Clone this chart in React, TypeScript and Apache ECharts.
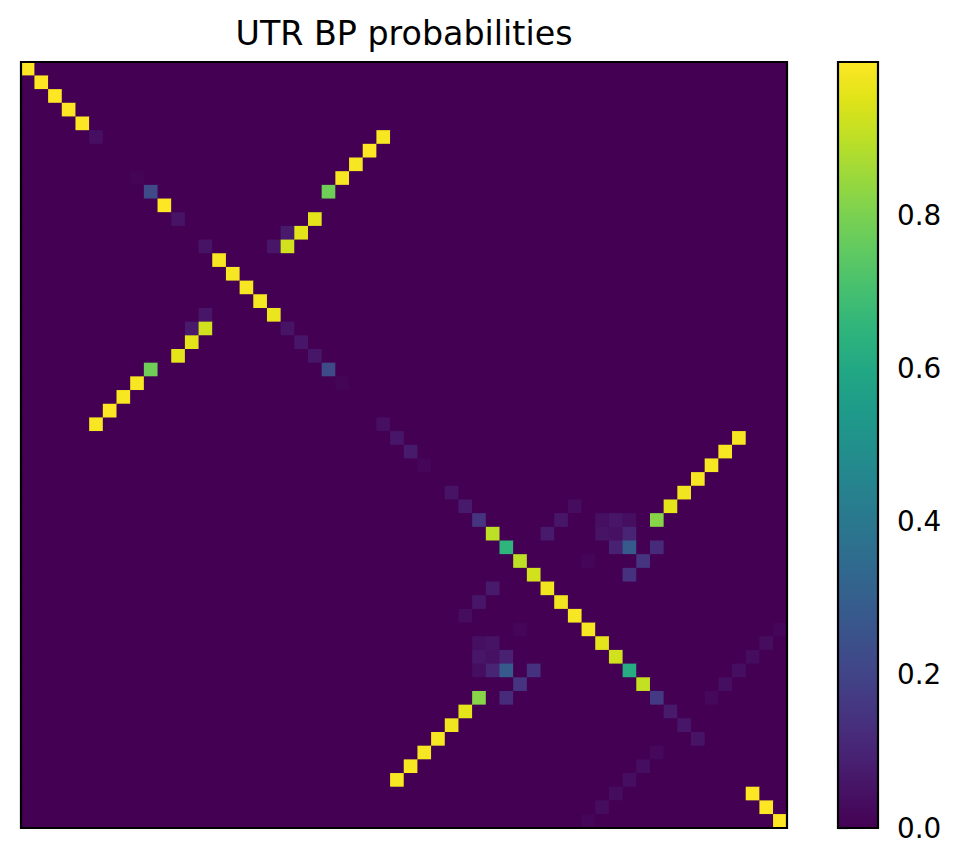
import React, { useEffect, useRef } from 'react';
import * as echarts from 'echarts';

const N = 56;
const categories = Array.from({ length: N }, (_, i) => String(i));

// diagonal values (unpaired probability) for each position
const unpaired = [
  1, 1, 1, 1, 1, 0.04, 0, 0, 0.01, 0.22,
  1, 0.05, 0, 0.05, 0.99, 0.99, 0.99, 0.99, 0.97, 0.05,
  0.06, 0.06, 0.22, 0.01, 0, 0, 0.04, 0.06, 0.07, 0.015,
  0, 0.05, 0.07, 0.15, 0.9, 0.65, 0.9, 0.93, 0.98, 0.98,
  0.99, 0.99, 0.96, 0.93, 0.62, 0.91, 0.17, 0.07, 0.06, 0.05,
  0, 0, 0, 1, 1, 1,
];

// base pair (i, j) probabilities, mirrored to (j, i)
const pairI = [5, 6, 7, 8, 9, 11, 12, 12, 13, 13,
  27, 28, 29, 30, 31, 32, 33,
  32, 33, 34, 33, 33, 33, 34, 34, 34, 35, 35, 35, 36, 37, 36,
  42, 43, 44, 45, 46, 41];
const pairJ = [26, 25, 24, 23, 22, 21, 20, 19, 19, 18,
  52, 51, 50, 49, 48, 47, 46,
  40, 39, 38, 42, 43, 44, 42, 43, 44, 43, 44, 46, 45, 44, 41,
  54, 53, 52, 51, 50, 55];
const pairP = [0.99, 1, 0.99, 0.99, 0.78, 0.96, 0.96, 0.07, 0.93, 0.06,
  0.99, 0.99, 0.99, 0.99, 0.98, 0.96, 0.82,
  0.03, 0.06, 0.07, 0.04, 0.06, 0.035, 0.05, 0.045, 0.1, 0.09, 0.28, 0.12, 0.15, 0.14, 0.012,
  0.03, 0.03, 0.035, 0.035, 0.02, 0.012];

const colorbarTicks = [0, 0.2, 0.4, 0.6, 0.8];

const viridis = [
  '#440154', '#471365', '#482475', '#463480', '#414487', '#3b528b', '#355f8d',
  '#2f6c8e', '#2a788e', '#25848e', '#21918c', '#1e9c89', '#22a884', '#2fb47c',
  '#44bf70', '#5ec962', '#7ad151', '#9bd93c', '#bddf26', '#dfe318', '#fde725',
];

export default function App() {
  const ref = useRef<HTMLDivElement>(null);
  useEffect(() => {
    if (!ref.current) return;
    const chart = echarts.init(ref.current, undefined, { renderer: 'svg' });
    const matrix: number[][] = Array.from({ length: N }, () => Array(N).fill(0));
    unpaired.forEach((v, i) => { matrix[i][i] = v; });
    pairI.forEach((i, k) => {
      const j = pairJ[k];
      matrix[i][j] = pairP[k];
      matrix[j][i] = pairP[k];
    });
    const data: number[][] = [];
    for (let r = 0; r < N; r++) for (let c = 0; c < N; c++) data.push([c, r, matrix[r][c]]);

    const PL = 21, PT = 62, PW = 766, PH = 766;
    const CL = 838, CW = 40;

    chart.setOption({
      animation: false,
      backgroundColor: '#ffffff',
      textStyle: { fontFamily: 'DejaVu Sans' },
      grid: [
        { left: PL, top: PT, width: PW, height: PH, show: true, backgroundColor: '#440154', borderWidth: 0 },
        { left: CL, top: PT, width: CW, height: PH, show: false },
      ],
      xAxis: [
        { type: 'category', data: categories, gridIndex: 0, show: false },
        { type: 'value', gridIndex: 1, show: false, min: 0, max: 1 },
      ],
      yAxis: [
        { type: 'category', data: categories, gridIndex: 0, inverse: true, show: false },
        {
          type: 'value', gridIndex: 1, min: 0, max: 1, interval: 0.2, position: 'right',
          axisLine: { show: false },
          splitLine: { show: false },
          axisTick: { show: true, length: 9.7, lineStyle: { color: '#000', width: 2.2 }, customValues: colorbarTicks },
          axisLabel: {
            show: true, customValues: colorbarTicks,
            formatter: (v: number) => (v > 0.95 ? '' : v.toFixed(1)),
            fontSize: 27.8, color: '#000', margin: 19, fontFamily: 'DejaVu Sans',
          },
        },
      ],
      visualMap: {
        type: 'continuous', min: 0, max: 1, dimension: 2, seriesIndex: 0,
        calculable: false, show: true, orient: 'vertical',
        left: CL, top: PT, itemWidth: CW, itemHeight: PH, padding: 0,
        hoverLink: false,
        inRange: { color: viridis },
      },
      series: [
        {
          type: 'heatmap', xAxisIndex: 0, yAxisIndex: 0, data,
          progressive: 0, emphasis: { disabled: true }, itemStyle: { borderWidth: 0 },
        },
      ],
      graphic: [
        {
          type: 'text', x: PL + PW / 2, y: 33, z: 100,
          style: { text: 'UTR BP probabilities', fontSize: 33.3, fontFamily: 'DejaVu Sans', fill: '#000', textAlign: 'center', textVerticalAlign: 'middle' },
        },
        { type: 'rect', z: 100, shape: { x: PL, y: PT, width: PW, height: PH }, style: { fill: 'none', stroke: '#000', lineWidth: 2.2 } },
        { type: 'rect', z: 100, shape: { x: CL, y: PT, width: CW, height: PH }, style: { fill: 'none', stroke: '#000', lineWidth: 2.2 } },
      ],
    });
    return () => chart.dispose();
  }, []);
  return <div ref={ref} style={{ position: 'fixed', left: 0, top: 0, width: 961, height: 867 }} />;
}
